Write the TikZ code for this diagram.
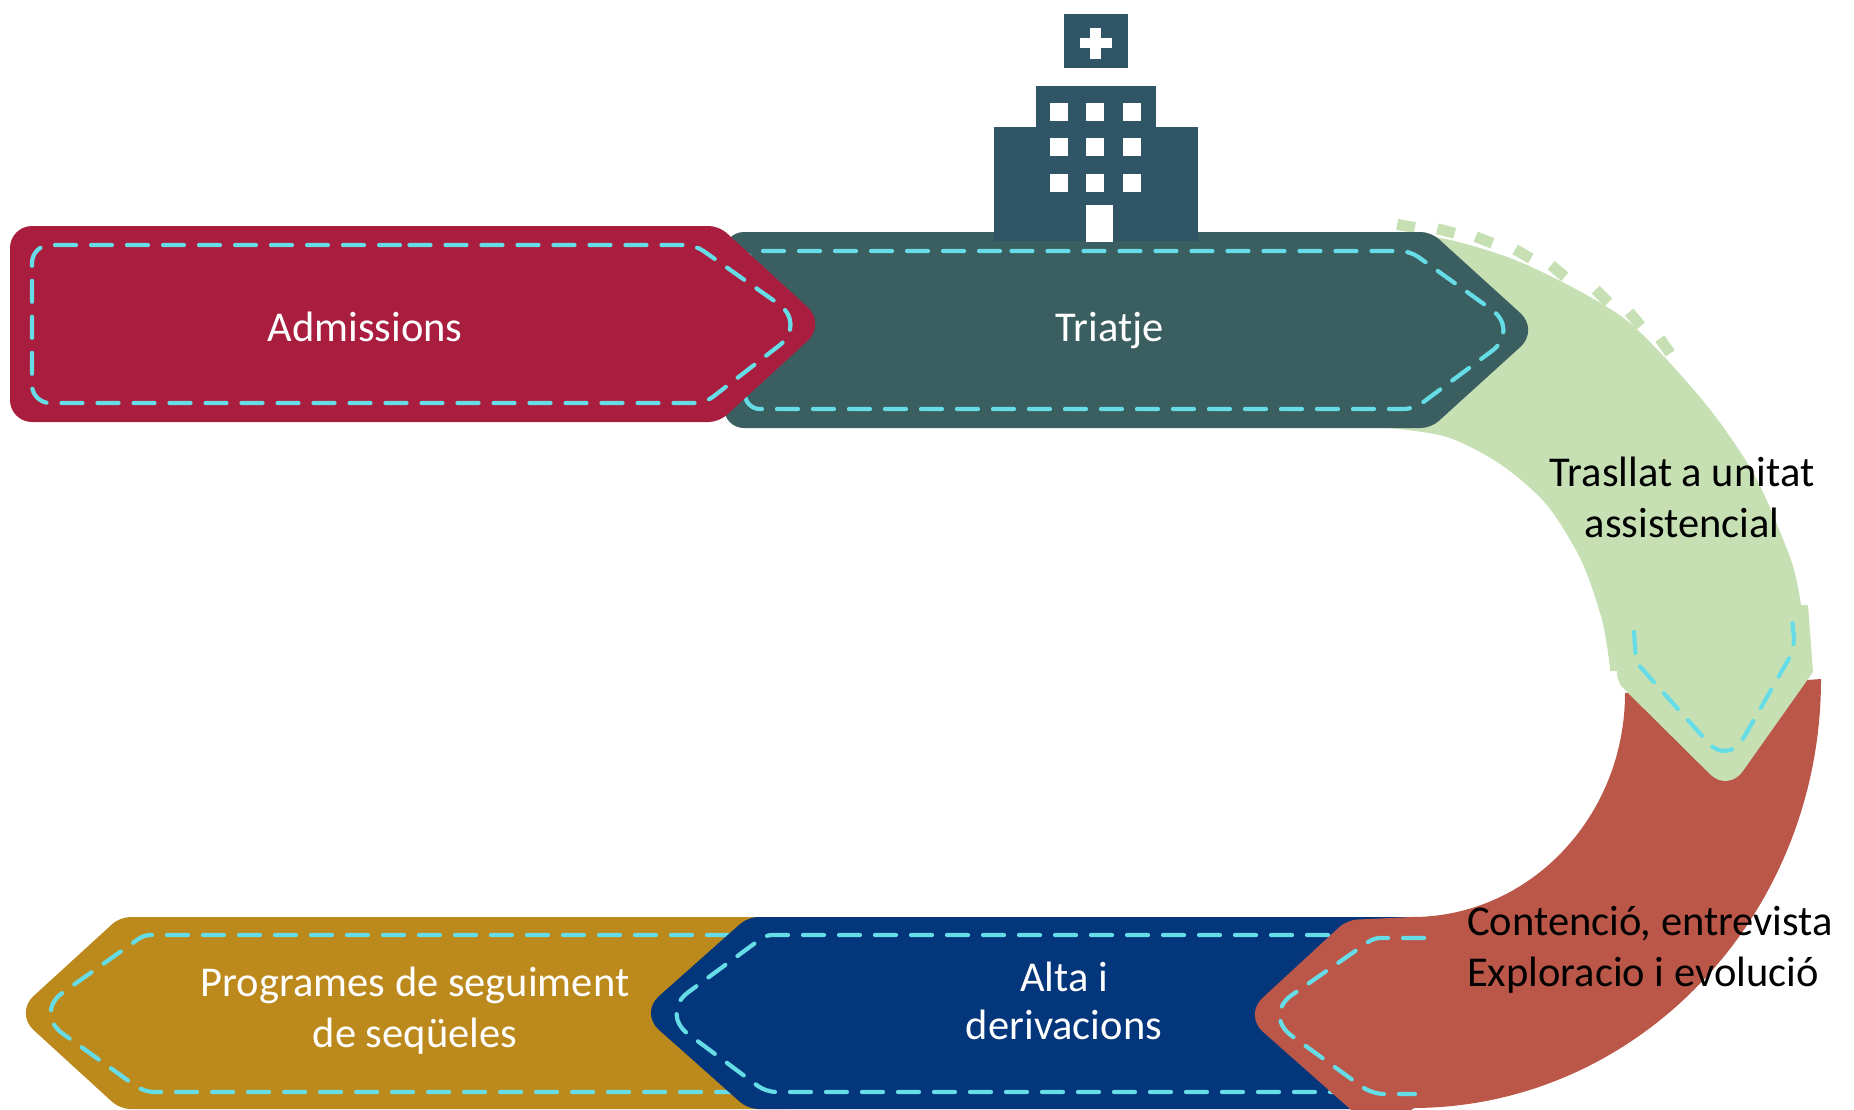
\documentclass[tikz,border=0pt]{standalone}
\usepackage{fontspec}
\setmainfont{Carlito}
\definecolor{cMaroon}{HTML}{A91E3E}
\definecolor{cTeal}{HTML}{3B5F60}
\definecolor{cHosp}{HTML}{305566}
\definecolor{cGold}{HTML}{BC8A1C}
\definecolor{cBlue}{HTML}{04367C}
\definecolor{cRed}{HTML}{BA5749}
\definecolor{cGreen}{HTML}{C6E0B4}
\definecolor{cDash}{HTML}{66DDE6}
\tikzset{
  stitch/.style={draw=cDash,line width=4.2pt,line cap=round,dash pattern=on 21pt off 15pt},
  rc/.style={rounded corners=#1},
  lbl/.style={font=\fontsize{42.5}{51}\selectfont,align=center,inner sep=0pt},
  lblw/.style={lbl,text=white},
  lblk/.style={lbl,text=black},
  win/.style={fill=white,draw=none},
}
\begin{document}
\begin{tikzpicture}[x=1pt,y=-1pt]
\useasboundingbox (0,0) rectangle (1854,1109);
\clip (0,0) rectangle (1854,1109);
% gold
\fill[cGold] (800,917) [rc=10pt] -- (120,917) [rc=25pt] -- (15,1013) [rc=10pt] -- (120,1109) -- (800,1109) [sharp corners] -- cycle;
\draw[stitch] (800,935) [rc=6pt] -- (144,935) [rc=35pt] -- (34,1013) [rc=10pt] -- (144,1092) -- (800,1092);
% blue
\fill[cBlue] (1420,917) [rc=10pt] -- (748,917) [rc=25pt] -- (640,1013) [rc=10pt] -- (748,1109) -- (1420,1109) [sharp corners] -- cycle;
\draw[stitch] (1400,935) [rc=6pt] -- (766,935) [rc=35pt] -- (660,1013) [rc=10pt] -- (766,1092) -- (1400,1092);
% red
\fill[cRed] (1412,1108) -- (1412,1116) [rc=10pt] -- (1358,1116) [rc=25pt] -- (1244,1015) [rc=10pt] -- (1347,920) [sharp corners] -- (1412,917)
  .. controls (1529.6,917) and (1625,816.7) .. (1625,693)
  -- (1821,679)
  .. controls (1821,915.9) and (1637.9,1108) .. (1412,1108) -- cycle;
\draw[stitch] (1424,938) [rc=6pt] -- (1374,938) [rc=35pt] -- (1263,1015) [rc=12pt] -- (1372,1094) -- (1415,1094);
% green
\fill[cGreen] plot[smooth] coordinates {(1368,232) (1441,238) (1510,258) (1570,286) (1625,319) (1669,362) (1715,416) (1756,478) (1791,560) (1801,605)}
  -- (1808,605) -- (1813,672) [rc=25pt] -- (1728,792) [rc=8pt] -- (1617,682) [sharp corners] -- (1617,671) -- (1610,671)
  -- plot[smooth] coordinates {(1610,668) (1602,620) (1581,560) (1546,504) (1500,464) (1447,437) (1389,428)} -- cycle;
\foreach \px/\py/\pa in {1406/226/10,1446/231/14,1484/240/22,1523/254/30,1558/271/40,1602/296/45,1635/319/50,1665/346/55}
  \draw[cGreen,line width=11pt,shift={(\px,\py)},rotate=-\pa] (-9,0) -- (9,0);
\draw[stitch] (1634,632) -- (1636,662) [rc=30pt] -- (1728,765) [rc=12pt] -- (1795,648) -- (1791,609);
% teal
\fill[cTeal] (1000,232) [rc=10pt] -- (1431,232) [rc=25pt] -- (1539,330) [rc=10pt] -- (1431,428) [rc=20pt] -- (724,428) -- (724,232) -- (1000,232);
\draw[stitch] (1000,251) [rc=15pt] -- (745,251) -- (745,409) [rc=10pt] -- (1414,409) [rc=35pt] -- (1520,330) [rc=10pt] -- (1410,251) [rc=15pt] -- (1000,251);
% hospital
\fill[cHosp] (1064,14) rectangle (1128,68);
\fill[white] (1090,28) rectangle (1101,59);
\fill[white] (1080,37.5) rectangle (1112,48);
\fill[cHosp] (1036,86) rectangle (1156,127);
\fill[cHosp] (994,127) rectangle (1198,241);
\foreach \wx in {1050,1086,1123} \foreach \wy in {103,138,174}
  \fill[win] (\wx,\wy) rectangle ++(18,18);
\fill[win] (1086,205) rectangle (1113,242);
% maroon
\fill[cMaroon] (400,226) [rc=10pt] -- (719,226) [rc=25pt] -- (826,324) [rc=10pt] -- (719,422) [rc=22pt] -- (10,422) -- (10,226) -- (400,226);
\draw[stitch] (400,245) [rc=18pt] -- (32,245) -- (32,403) [rc=10pt] -- (705,403) [rc=35pt] -- (807,324) [rc=10pt] -- (695,245) [rc=18pt] -- (400,245);
% labels
\node[lblw] (admissions) at (365,327) {Admissions};
\node[lblw] (triatje) at (1110,331) {Triatje};
\node[lblk] (trasllat) at (1682,497) {Trasllat a unitat\\assistencial};
\node[lblk,align=left] (contencio) at (1650,950) {Contenció, entrevista\\Exploracio i evolució};
\node[lblw,font=\fontsize{42.5}{48}\selectfont] (alta) at (1064,1001) {Alta i\\derivacions};
\node[lblw] (programes) at (415,1011) {Programes de seguiment\\de seqüeles};
\end{tikzpicture}
\end{document}
